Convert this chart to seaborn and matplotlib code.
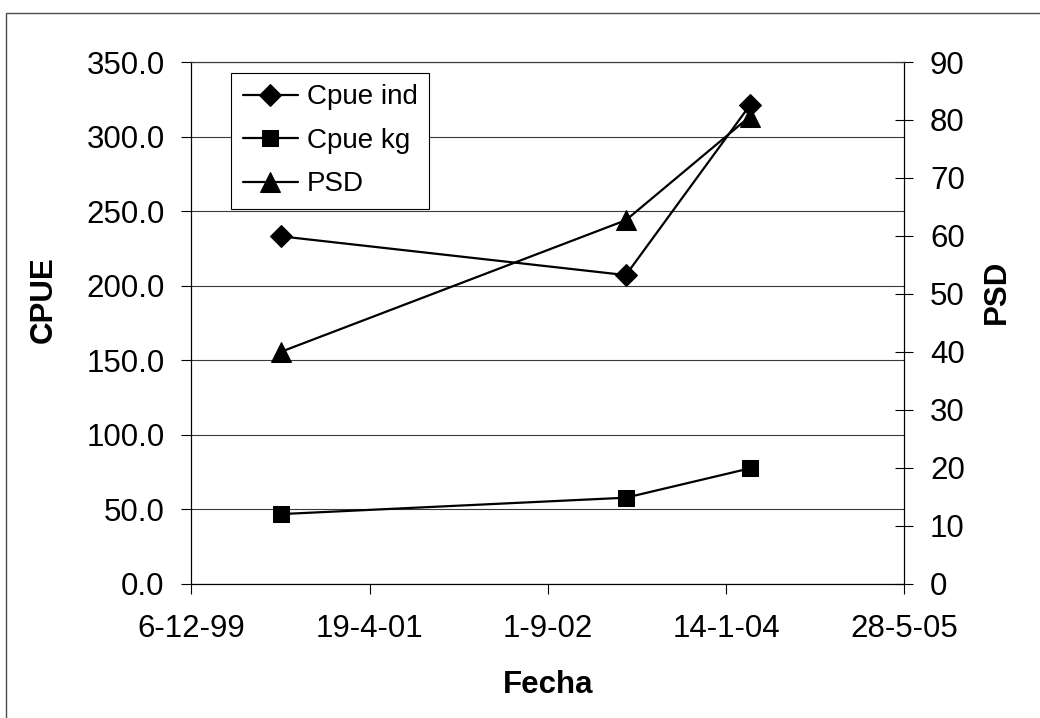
import matplotlib
matplotlib.use('Agg')
import matplotlib.pyplot as plt
import matplotlib.dates as mdates
import seaborn as sns
import pandas as pd
from matplotlib.patches import Rectangle

# Datos
fechas = ['2000-08-14', '2003-04-08', '2004-03-21']
cpue_ind = [233.0, 207.0, 321.0]
cpue_kg = [46.6, 57.6, 77.3]
psd = [40.0, 62.7, 80.6]

x_ticks = ['1999-12-06', '2001-04-19', '2002-09-01', '2004-01-14', '2005-05-28']
x_tick_labels = ['6-12-99', '19-4-01', '1-9-02', '14-1-04', '28-5-05']
cpue_ticks = [0, 50, 100, 150, 200, 250, 300, 350]
cpue_tick_labels = ['0.0', '50.0', '100.0', '150.0', '200.0', '250.0', '300.0', '350.0']
psd_ticks = [0, 10, 20, 30, 40, 50, 60, 70, 80, 90]
psd_tick_labels = ['0', '10', '20', '30', '40', '50', '60', '70', '80', '90']

df = pd.DataFrame({
    'fecha': pd.to_datetime(fechas),
    'cpue_ind': cpue_ind,
    'cpue_kg': cpue_kg,
    'psd': psd,
})

sns.set_style('white')
plt.rcParams['font.family'] = ['Liberation Sans', 'DejaVu Sans']
plt.rcParams['text.color'] = 'black'
plt.rcParams['axes.labelcolor'] = 'black'

FS = 22.5
fig = plt.figure(figsize=(10.4, 7.18), dpi=100)
ax = fig.add_axes([0.1839, 0.1873, 0.6856, 0.7263])
ax2 = ax.twinx()

estilo = dict(color='black', linewidth=1.6, markeredgecolor='black', markerfacecolor='black')
sns.lineplot(data=df, x='fecha', y='cpue_ind', marker='D', markersize=11, ax=ax, label='Cpue ind', **estilo)
sns.lineplot(data=df, x='fecha', y='cpue_kg', marker='s', markersize=11, ax=ax, label='Cpue kg', **estilo)
sns.lineplot(data=df, x='fecha', y='psd', marker='^', markersize=14, ax=ax2, label='PSD', **estilo)

for a in (ax, ax2):
    if a.get_legend() is not None:
        a.get_legend().remove()

# Eje X (fechas)
xt = mdates.date2num(pd.to_datetime(x_ticks))
ax.set_xlim(xt[0], xt[-1])
ax.set_xticks(xt)
ax.set_xticklabels(x_tick_labels)

# Eje izquierdo
ax.set_ylim(0, 350)
ax.set_yticks(cpue_ticks)
ax.set_yticklabels(cpue_tick_labels)

# Eje derecho
ax2.set_ylim(0, 90)
ax2.set_yticks(psd_ticks)
ax2.set_yticklabels(psd_tick_labels)

ax.yaxis.grid(True, color='#3a3a3a', linewidth=0.8)
ax.xaxis.grid(False)
ax2.grid(False)
ax.set_axisbelow(True)

ax.tick_params(axis='y', which='major', direction='out', length=7.2, width=0.8,
               color='black', labelcolor='black', labelsize=FS, pad=12, left=True)
ax.tick_params(axis='x', which='major', direction='out', length=7.2, width=0.8,
               color='black', labelcolor='black', labelsize=FS, pad=15, bottom=True)
ax2.tick_params(axis='y', which='major', direction='inout', length=13, width=0.8,
                color='black', labelcolor='black', labelsize=FS, pad=12, right=True)

for a in (ax, ax2):
    for s in ['left', 'right', 'bottom']:
        a.spines[s].set_color('black')
        a.spines[s].set_linewidth(0.8)
    a.spines['top'].set_color('#3a3a3a')
    a.spines['top'].set_linewidth(0.8)

ax.set_xlabel('Fecha', fontsize=FS, fontweight='bold')
ax.set_ylabel('CPUE', fontsize=FS, fontweight='bold')
ax2.set_ylabel('PSD', fontsize=FS, fontweight='bold')
ax.xaxis.set_label_coords(0.5003, -0.1955)
ax.xaxis.label.set_va('center')
ax.yaxis.set_label_coords(-0.2066, 0.545)
ax.yaxis.label.set_va('center')
ax2.yaxis.set_label_coords(1.1293, 0.560)
ax2.yaxis.label.set_va('center')
ax2.yaxis.label.set_rotation(90)

h1, l1 = ax.get_legend_handles_labels()
h2, l2 = ax2.get_legend_handles_labels()
leg = ax2.legend(h1 + h2, l1 + l2, loc='upper left', bbox_to_anchor=(0.0557, 0.9795),
                 borderaxespad=0, fontsize=20, frameon=True, fancybox=False,
                 edgecolor='black', framealpha=1, handlelength=2.0, handletextpad=0.3,
                 labelspacing=0.63, borderpad=0.42)
leg.get_frame().set_linewidth(0.8)

# Marco exterior del grafico
fig.patches.append(Rectangle((6 / 1040, -0.1), 1.2, (718 - 13) / 718 + 0.1,
                             transform=fig.transFigure, fill=False,
                             edgecolor='#4a4a4a', linewidth=1))

fig.savefig('out.png', dpi=100)
plt.close(fig)
